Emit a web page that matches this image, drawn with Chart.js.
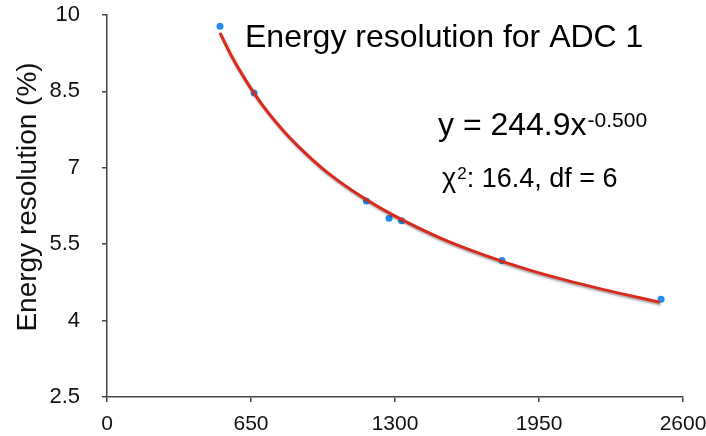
<!DOCTYPE html>
<html>
<head>
<meta charset="utf-8">
<script src="https://cdn.jsdelivr.net/npm/chart.js@4.4.0/dist/chart.umd.min.js"></script>
<style>
  html, body { margin: 0; padding: 0; background: #fff; }
  #wrap { width: 706px; height: 436px; }
</style>
</head>
<body>
<div id="wrap"><canvas id="resChart" width="706" height="436"></canvas></div>
<script>
// measured points (ADC channel vs resolution %)
const adcX = [510, 664, 1171, 1273, 1330, 1783, 2501];
const resY = [9.78, 8.47, 6.35, 6.01, 5.96, 5.18, 4.42];

// fitted power-law curve, sampled along the trend line
const fitX = [510, 560, 620, 700, 800, 900, 1000, 1150, 1300, 1500, 1700, 1900, 2100, 2300, 2495];
const fitY = [9.65, 9.21, 8.76, 8.24, 7.71, 7.27, 6.89, 6.43, 6.05, 5.63, 5.29, 5.0, 4.76, 4.55, 4.36];

const xTicks = [0, 650, 1300, 1950, 2600];
const yTicks = [2.5, 4, 5.5, 7, 8.5, 10];

const FONT = "'Liberation Sans', Arial, Helvetica, sans-serif";

/**
 * Draws the chart title, axis title and fit annotation
 */
const annotations = {
  id: "annotations",
  beforeDatasetDraw(chart, args) {
    // soft drop shadow under the fit line
    if (args.index === 0) {
      const ctx = chart.ctx;
      ctx.save();
      ctx.shadowColor = "rgba(0, 0, 0, 0.35)";
      ctx.shadowOffsetX = 1;
      ctx.shadowOffsetY = 2;
      ctx.shadowBlur = 2;
    }
  },
  afterDatasetDraw(chart, args) {
    if (args.index === 0) chart.ctx.restore();
  },
  afterDraw(chart) {
    const ctx = chart.ctx;
    ctx.save();
    ctx.fillStyle = "#000";
    ctx.textBaseline = "alphabetic";
    ctx.textAlign = "left";

    ctx.font = "32px " + FONT;
    ctx.fillText("Energy resolution for ADC 1", 245, 47);

    // y = 244.9x^-0.500
    ctx.font = "32px " + FONT;
    const eq = "y = 244.9x";
    ctx.fillText(eq, 438, 135);
    const eqW = ctx.measureText(eq).width;
    ctx.font = "21px " + FONT;
    ctx.fillText("-0.500", 438 + eqW + 1, 127);

    // chi-square line
    ctx.font = "27px " + FONT;
    ctx.fillText("\u03c7", 442, 187);
    let x = 442 + ctx.measureText("\u03c7").width;
    ctx.font = "17px " + FONT;
    ctx.fillText("2", x + 1, 179);
    x += ctx.measureText("2").width + 1;
    ctx.font = "27px " + FONT;
    ctx.fillText(": 16.4, df = 6", x, 187);

    // y axis title
    ctx.translate(36, 197);
    ctx.rotate(-Math.PI / 2);
    ctx.textAlign = "center";
    ctx.font = "28px " + FONT;
    ctx.fillStyle = "#111";
    ctx.fillText("Energy resolution (%)", 0, 0);
    ctx.restore();
  },
};

const fitData = fitX.map((v, i) => ({ x: v, y: fitY[i] }));
const pointData = adcX.map((v, i) => ({ x: v, y: resY[i] }));

const axisColor = "#444";

new Chart(document.getElementById("resChart").getContext("2d"), {
  type: "scatter",
  data: {
    datasets: [
      {
        label: "Fit",
        data: fitData,
        showLine: true,
        borderColor: "#d92b1c",
        borderWidth: 3,
        pointRadius: 0,
        cubicInterpolationMode: "monotone",
        fill: false,
      },
      {
        label: "ADC 1",
        data: pointData,
        backgroundColor: "#1f8ef0",
        borderColor: "#1f8ef0",
        pointRadius: 3.5,
        borderWidth: 0,
      },
    ],
  },
  options: {
    responsive: false,
    animation: false,
    layout: { padding: 0 },
    plugins: {
      legend: { display: false },
      tooltip: { enabled: false },
    },
    scales: {
      x: {
        type: "linear",
        min: 0,
        max: 2600,
        afterBuildTicks: (scale) => {
          scale.ticks = xTicks.map((v) => ({ value: v }));
        },
        afterFit: (scale) => {
          // fixed margins for the plot area
          scale.height = 39;
          scale.paddingLeft = 0;
          scale.paddingRight = 23;
        },
        grid: {
          drawOnChartArea: false,
          drawTicks: true,
          tickLength: 5,
          color: axisColor,
          lineWidth: 1.5,
        },
        border: { color: axisColor, width: 1.5 },
        ticks: {
          color: "#111",
          padding: 10,
          maxRotation: 0,
          callback: (v) => String(v),
          font: { family: FONT, size: 21 },
        },
      },
      y: {
        type: "linear",
        min: 2.5,
        max: 10,
        afterBuildTicks: (scale) => {
          scale.ticks = yTicks.map((v) => ({ value: v }));
        },
        afterFit: (scale) => {
          scale.width = 107;
          scale.paddingTop = 15;
          scale.paddingBottom = 0;
        },
        grid: {
          drawOnChartArea: false,
          drawTicks: true,
          tickLength: 5,
          color: axisColor,
          lineWidth: 1.5,
        },
        border: { color: axisColor, width: 1.5 },
        ticks: {
          color: "#111",
          padding: 22,
          callback: (v) => String(v),
          font: { family: FONT, size: 22 },
        },
      },
    },
  },
  plugins: [annotations],
});
</script>
</body>
</html>
